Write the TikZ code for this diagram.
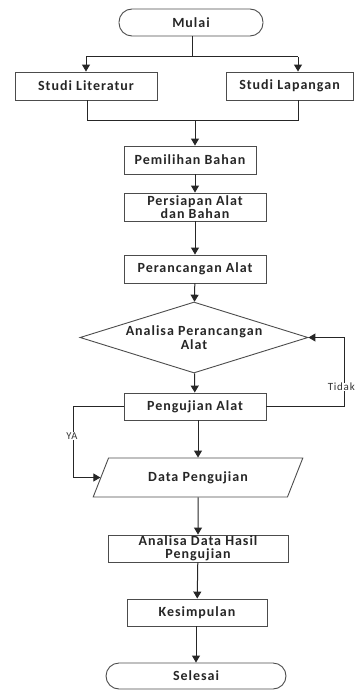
\documentclass[tikz,border=0pt]{standalone}
\usepackage{fontspec}
\setmainfont{Carlito}[LetterSpace=7]
\usetikzlibrary{shapes.geometric,arrows.meta}
\begin{document}
\begin{tikzpicture}[x=1pt,y=-1pt,
  font=\fontsize{14}{13.5}\selectfont\bfseries,
  box/.style={draw=black!70, line width=0.9pt, rectangle, minimum height=28pt, inner sep=0pt, align=center, text=black!85},
  term/.style={box, rounded corners=13pt},
  dia/.style={draw=black!70, line width=0.9pt, diamond, aspect=3.2, minimum width=228pt, minimum height=71pt, inner sep=0pt, align=center, text=black!85},
  para/.style={draw=black!70, line width=0.9pt, trapezium, trapezium left angle=55, trapezium right angle=125, trapezium stretches=true, minimum width=210pt, minimum height=39pt, inner sep=0pt, text=black!85},
  arr/.style={-{Triangle[width=8pt,length=7pt]}, line width=1pt, draw=black!85},
  ln/.style={line width=1pt, draw=black!85},
  lbl/.style={font=\fontsize{11}{11}\selectfont, fill=white, inner sep=0.5pt, text=black!80}]
\useasboundingbox (0,0) rectangle (356,690);
\node[term, minimum width=144pt, minimum height=27pt] (mulai) at (191,22.5) {Mulai};
\node[box, minimum width=142pt] (lit) at (86,86) {Studi Literatur};
\node[box, minimum width=127pt] (lap) at (289.5,86) {Studi Lapangan};
\node[box, minimum width=132pt] (pil) at (190,160) {Pemilihan Bahan};
\node[box, minimum width=142pt] (per) at (195,207) {Persiapan Alat\\dan Bahan};
\node[box, minimum width=142pt] (ran) at (195,269) {Perancangan Alat};
\node[dia] (ana) at (194,337.5) {Analisa Perancangan\\Alat};
\node[box, minimum width=142pt, minimum height=27pt] (uji) at (195,406.5) {Pengujian Alat};
\node[para] (data) at (198,477.5) {Data Pengujian};
\node[box, minimum width=180pt, minimum height=27pt] (has) at (198,548.5) {Analisa Data Hasil\\Pengujian};
\node[box, minimum width=140pt, minimum height=27pt] (kes) at (197,612.5) {Kesimpulan};
\node[term, minimum width=180pt, minimum height=26pt] (sel) at (196,676) {Selesai};
% split
\coordinate (s0) at (192,57);
\coordinate (s1) at (86,57);
\coordinate (s2) at (298,57);
\draw[ln] (mulai.south -| s0) -- (s0);
\draw[ln] (s1) -- (s2);
\draw[arr] (s1) -- (lit.north);
\draw[arr] (s2) -- (s2 |- lap.north);
% join
\coordinate (m1) at (87,121);
\coordinate (m2) at (298,121);
\coordinate (m3) at (195,121);
\draw[ln] (m1 |- lit.south) -- (m1) -- (m2) -- (m2 |- lap.south);
\draw[arr] (m3) -- (m3 |- pil.north);
\draw[arr] (per.north |- pil.south) -- (per.north);
\draw[arr] (per) -- (ran);
\draw[arr] (ran) -- (ana);
\draw[arr] (ana) -- (uji);
\draw[arr] (uji.south -| data.north) -- (data.north);
\draw[arr] (data.south) -- (has.north);
\draw[arr] (has) -- (kes);
\draw[arr] (kes.south -| sel.north) -- (sel.north);
% Tidak loop
\coordinate (t1) at (344,406.5);
\draw[arr] (uji.east) -- (t1) -- (t1 |- ana.east) -- (ana.east);
\node[lbl, anchor=east] (tidak) at (355.5,387) {Tidak};
% YA
\coordinate (y1) at (73,406.5);
\draw[arr] (uji.west) -- (y1) -- (y1 |- data.west) -- (data.west);
\node[lbl, font=\fontsize{10.5}{10.5}\selectfont] (ya) at (72,436) {YA};
\end{tikzpicture}
\end{document}
